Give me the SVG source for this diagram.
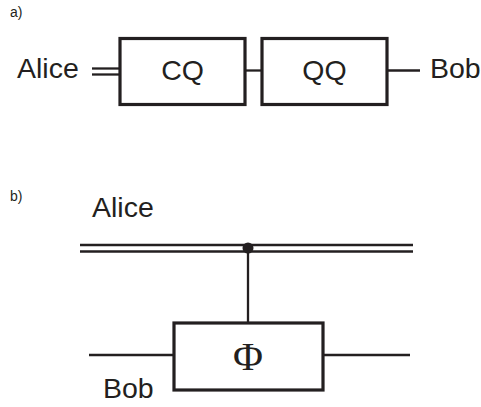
<svg xmlns="http://www.w3.org/2000/svg" width="481" height="407" viewBox="0 0 481 407">
<style>
.box{fill:#fff;stroke:#231f20;stroke-width:3.2}
.wire{stroke:#231f20;stroke-width:2.3;fill:none}
.lbl{font-family:"Liberation Sans",Arial,sans-serif;font-size:28.5px;fill:#231f20}
.small{font-family:"Liberation Sans",Arial,sans-serif;font-size:14px;fill:#231f20}
</style>
<rect width="481" height="407" fill="#fff"/>
<text class="small" x="10" y="17">a)</text>
<text class="small" x="10" y="201">b)</text>
<g id="connectors">
<line class="wire" x1="92" y1="68.5" x2="120" y2="68.5"/>
<line class="wire" x1="92" y1="74.5" x2="120" y2="74.5"/>
<line class="wire" x1="245" y1="70.5" x2="262" y2="70.5"/>
<line class="wire" x1="387" y1="70.5" x2="420" y2="70.5"/>
<line class="wire" x1="80" y1="245" x2="413" y2="245"/>
<line class="wire" x1="80" y1="251.5" x2="413" y2="251.5"/>
<line class="wire" x1="248" y1="248" x2="248" y2="323"/>
<line class="wire" x1="89" y1="355" x2="174" y2="355"/>
<line class="wire" x1="323" y1="355" x2="410" y2="355"/>
</g>
<g id="alice_a"><text class="lbl" x="17" y="78">Alice</text></g>
<g id="bob_a"><text class="lbl" x="430" y="78">Bob</text></g>
<g id="cq"><rect class="box" x="120" y="38.5" width="125" height="66"/><text class="lbl" x="182.5" y="80" text-anchor="middle">CQ</text></g>
<g id="qq"><rect class="box" x="262" y="38.5" width="125" height="66"/><text class="lbl" x="324.5" y="80" text-anchor="middle">QQ</text></g>
<g id="alice_b"><text class="lbl" x="92" y="217">Alice</text></g>
<g id="bob_b"><text class="lbl" x="103" y="398">Bob</text></g>
<g id="control"><circle cx="248" cy="248" r="5.5" fill="#231f20"/></g>
<g id="phi"><rect class="box" x="174" y="323" width="149" height="67"/><text x="248" y="370" text-anchor="middle" font-family="'Liberation Serif','Times New Roman',serif" font-size="41" fill="#231f20">Φ</text></g>
</svg>
